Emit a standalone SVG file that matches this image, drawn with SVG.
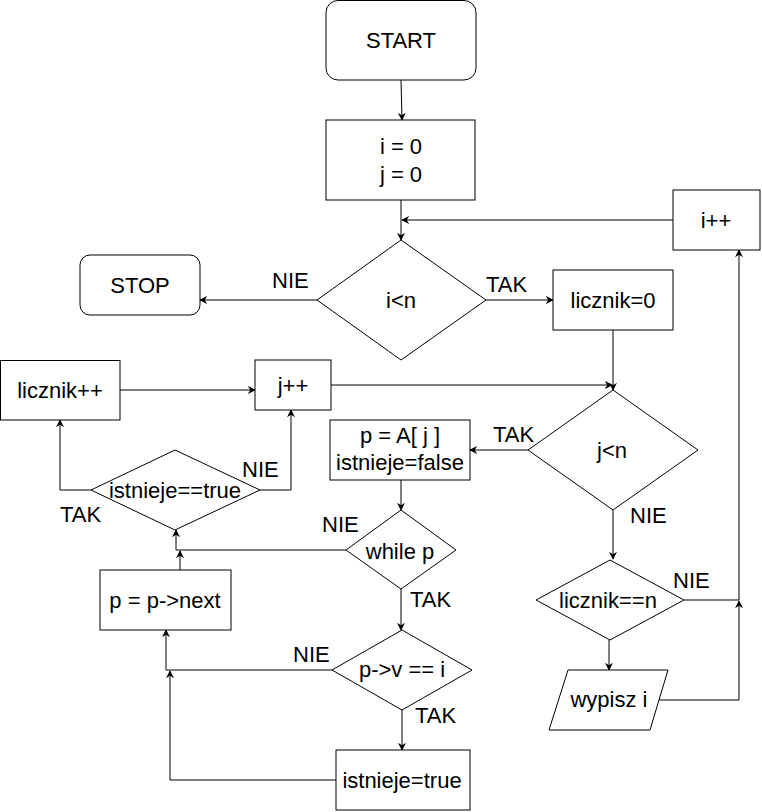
<svg xmlns="http://www.w3.org/2000/svg" width="762" height="812" viewBox="0 0 762 812">
<style>
.s{fill:#fff;stroke:#000;stroke-width:1}
.t{font-family:"Liberation Sans",Arial,sans-serif;font-size:22px;fill:#000;text-anchor:middle}
.l{font-family:"Liberation Sans",Arial,sans-serif;font-size:22px;fill:#000}
.e{fill:none;stroke:#000;stroke-width:1;marker-end:url(#a)}
</style>
<defs>
<marker id="a" viewBox="0 0 10 10" refX="9" refY="5" markerWidth="8" markerHeight="8" markerUnits="userSpaceOnUse" orient="auto">
<path d="M0,0 L10,5 L0,10 L3,5 Z" fill="#000"/>
</marker>
</defs>
<rect width="762" height="812" fill="#fff"/>
<g id="edges">
<path class="e" d="M401,80 L402,120"/>
<path class="e" d="M401,200 L401,240"/>
<path class="e" d="M673,220 L402,220"/>
<path class="e" d="M317,300 L200,300"/>
<path class="e" d="M486,300 L553,300"/>
<path class="e" d="M613,330 L613,390"/>
<path class="e" d="M331,385 L612,385"/>
<path class="e" d="M528,450 L470,450"/>
<path class="e" d="M401,480 L401,510"/>
<path class="e" d="M613,510 L613,559"/>
<path class="e" d="M609,640 L609,670"/>
<path class="e" d="M684,600 L739,600 L739,250"/>
<path class="e" d="M659,700 L739,700 L739,601"/>
<path class="e" d="M91,490 L60,490 L60,420"/>
<path class="e" d="M260,490 L291,490 L291,410"/>
<path class="e" d="M120,390 L255,390"/>
<path class="e" d="M346,550 L176,550 L176,530"/>
<path class="e" d="M180,570 L180,551"/>
<path class="e" d="M401,589 L401,630"/>
<path class="e" d="M332,670 L166,670 L166,630"/>
<path class="e" d="M402,710 L402,750"/>
<path class="e" d="M336,780 L170,780 L170,671"/>
<text class="l" x="272" y="288">NIE</text>
<text class="l" x="486" y="292">TAK</text>
<text class="l" x="493" y="442">TAK</text>
<text class="l" x="630" y="523">NIE</text>
<text class="l" x="242" y="477">NIE</text>
<text class="l" x="60" y="522">TAK</text>
<text class="l" x="322" y="532">NIE</text>
<text class="l" x="410" y="607">TAK</text>
<text class="l" x="293" y="662">NIE</text>
<text class="l" x="415" y="723">TAK</text>
<text class="l" x="673" y="588">NIE</text>
</g>
<g id="start"><rect class="s" x="326" y="0.5" width="150" height="79.5" rx="12"/><text class="t" x="401" y="48">START</text></g>
<g id="init"><rect class="s" x="326" y="120" width="149" height="80"/><text class="t" x="401" y="154">i = 0</text><text class="t" x="401" y="182">j = 0</text></g>
<g id="cond_i"><path class="s" d="M401,240 L486,300 L401,360 L317,300 Z"/><text class="t" x="401" y="308">i&lt;n</text></g>
<g id="iinc"><rect class="s" x="673" y="190" width="87" height="60"/><text class="t" x="716" y="228">i++</text></g>
<g id="stop"><rect class="s" x="80" y="255" width="120" height="60" rx="10"/><text class="t" x="140" y="293">STOP</text></g>
<g id="licz0"><rect class="s" x="553" y="270" width="120" height="60"/><text class="t" x="613" y="308">licznik=0</text></g>
<g id="cond_j"><path class="s" d="M613,390 L698,450 L613,510 L528,450 Z"/><text class="t" x="612" y="458">j&lt;n</text></g>
<g id="jinc"><rect class="s" x="255" y="360" width="76" height="50"/><text class="t" x="293" y="393">j++</text></g>
<g id="lizinc"><rect class="s" x="0.5" y="360.5" width="119.5" height="59.5"/><text class="t" x="60" y="398">licznik++</text></g>
<g id="pa"><rect class="s" x="330" y="420" width="140" height="60"/><text class="t" x="400" y="443">p = A[ j ]</text><text class="t" x="400" y="470">istnieje=false</text></g>
<g id="cond_ist"><path class="s" d="M175,450 L260,490 L175,530 L91,490 Z"/><text class="t" x="175" y="498">istnieje==true</text></g>
<g id="whilep"><path class="s" d="M401,510 L456,550 L401,589 L346,550 Z"/><text class="t" x="400" y="559">while p</text></g>
<g id="pnext"><rect class="s" x="100" y="570" width="131" height="60"/><text class="t" x="165" y="608">p = p-&gt;next</text></g>
<g id="cond_pv"><path class="s" d="M402,630 L472,670 L402,710 L332,670 Z"/><text class="t" x="402" y="677">p-&gt;v == i</text></g>
<g id="isttrue"><rect class="s" x="336" y="750" width="134" height="60"/><text class="t" x="402" y="788">istnieje=true</text></g>
<g id="cond_licz"><path class="s" d="M610,560 L684,600 L610,640 L536,600 Z"/><text class="t" x="608" y="608">licznik==n</text></g>
<g id="wypisz"><path class="s" d="M568,670 L668,670 L650,730 L549,730 Z"/><text class="t" x="609" y="707">wypisz i</text></g>
</svg>
